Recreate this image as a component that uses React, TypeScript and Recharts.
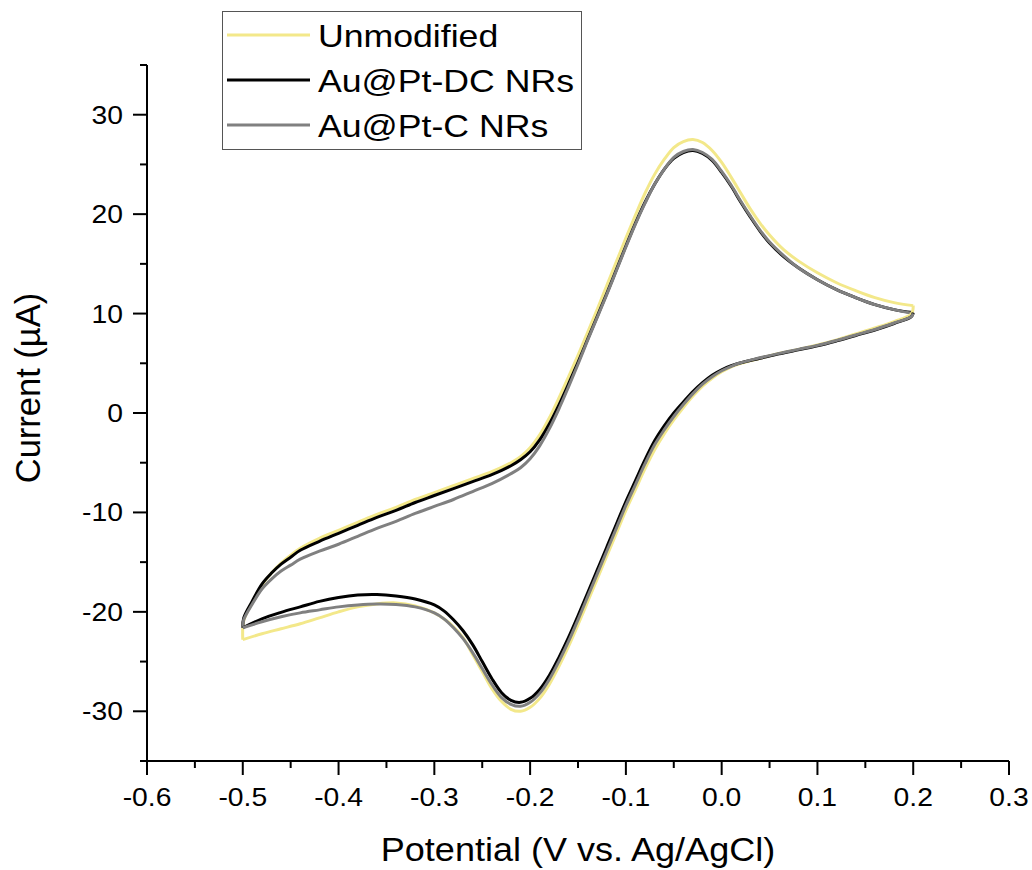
import { LineChart, Line, XAxis, YAxis, Label } from 'recharts';

// scan potentials (V vs. Ag/AgCl): forward sweep then reverse sweep
const potentialFwd = [-0.5, -0.499, -0.49, -0.48, -0.47, -0.46, -0.45, -0.44, -0.42, -0.4, -0.38, -0.36, -0.34, -0.32, -0.3, -0.28, -0.26, -0.24, -0.22, -0.21, -0.2, -0.19, -0.18, -0.17, -0.16, -0.15, -0.14, -0.13, -0.12, -0.11, -0.1, -0.09, -0.08, -0.07, -0.06, -0.05, -0.04, -0.03, -0.02, -0.01, 0.0, 0.01, 0.02, 0.03, 0.04, 0.05, 0.065, 0.08, 0.1, 0.12, 0.14, 0.16, 0.18, 0.2];
const potentialRev = [0.2, 0.198, 0.18, 0.16, 0.14, 0.12, 0.1, 0.08, 0.06, 0.04, 0.02, 0.01, 0.0, -0.01, -0.02, -0.03, -0.04, -0.05, -0.06, -0.07, -0.08, -0.09, -0.1, -0.11, -0.12, -0.13, -0.14, -0.15, -0.16, -0.17, -0.18, -0.19, -0.2, -0.21, -0.22, -0.23, -0.24, -0.25, -0.26, -0.27, -0.28, -0.29, -0.3, -0.32, -0.34, -0.36, -0.38, -0.4, -0.42, -0.44, -0.46, -0.48, -0.5];

// currents in µA
const unmodifiedFwd = [-22.8, -20.9, -19.0, -17.3, -16.1, -15.1, -14.3, -13.6, -12.6, -11.8, -11.0, -10.2, -9.5, -8.7, -8.0, -7.3, -6.6, -5.9, -5.0, -4.4, -3.5, -2.2, -0.5, 1.5, 3.6, 5.8, 8.1, 10.4, 12.8, 15.2, 17.6, 19.9, 22.1, 24.0, 25.5, 26.7, 27.3, 27.5, 27.2, 26.4, 25.2, 23.7, 22.1, 20.5, 19.1, 17.9, 16.4, 15.3, 14.1, 13.1, 12.3, 11.6, 11.1, 10.8];
const unmodifiedRev = [10.8, 9.95, 9.2, 8.55, 7.95, 7.35, 6.85, 6.4, 6.0, 5.5, 5.0, 4.65, 4.15, 3.5, 2.7, 1.7, 0.55, -0.7, -2.1, -3.7, -5.6, -7.7, -9.8, -12.1, -14.4, -16.7, -19.0, -21.3, -23.5, -25.5, -27.3, -28.7, -29.6, -30.0, -29.8, -29.0, -27.7, -26.0, -24.3, -22.6, -21.5, -20.7, -20.1, -19.4, -19.1, -19.2, -19.5, -20.0, -20.6, -21.2, -21.7, -22.2, -22.8];
const dcFwd = [-21.6, -20.6, -18.9, -17.2, -16.1, -15.2, -14.5, -13.8, -12.9, -12.1, -11.3, -10.5, -9.8, -9.0, -8.3, -7.6, -6.9, -6.2, -5.3, -4.7, -3.9, -2.7, -1.1, 0.8, 2.9, 5.1, 7.4, 9.7, 12.0, 14.4, 16.8, 19.1, 21.2, 23.0, 24.5, 25.6, 26.2, 26.4, 26.1, 25.4, 24.2, 22.8, 21.2, 19.7, 18.3, 17.1, 15.7, 14.6, 13.4, 12.4, 11.6, 10.9, 10.4, 10.1];
const dcRev = [10.1, 9.7, 9.0, 8.35, 7.8, 7.25, 6.75, 6.35, 5.95, 5.5, 5.05, 4.75, 4.35, 3.8, 3.05, 2.15, 1.1, 0.0, -1.3, -2.8, -4.7, -6.8, -8.9, -11.2, -13.5, -15.8, -18.1, -20.4, -22.6, -24.6, -26.4, -27.8, -28.7, -29.1, -28.9, -28.1, -26.7, -25.0, -23.3, -21.9, -20.8, -19.9, -19.3, -18.7, -18.4, -18.25, -18.3, -18.55, -18.95, -19.5, -20.05, -20.7, -21.6];
const cFwd = [-21.6, -20.8, -19.2, -17.7, -16.7, -15.9, -15.3, -14.7, -13.9, -13.2, -12.4, -11.6, -10.9, -10.1, -9.4, -8.7, -7.9, -7.1, -6.1, -5.5, -4.6, -3.3, -1.6, 0.4, 2.6, 4.9, 7.3, 9.6, 11.9, 14.3, 16.7, 19.0, 21.1, 23.0, 24.5, 25.7, 26.3, 26.5, 26.2, 25.5, 24.3, 22.9, 21.3, 19.8, 18.4, 17.2, 15.8, 14.6, 13.4, 12.4, 11.6, 10.9, 10.4, 10.0];
const cRev = [10.0, 9.7, 9.05, 8.4, 7.85, 7.3, 6.8, 6.4, 6.0, 5.55, 5.05, 4.7, 4.25, 3.65, 2.9, 1.95, 0.85, -0.35, -1.7, -3.2, -5.1, -7.2, -9.3, -11.6, -13.9, -16.2, -18.5, -20.8, -23.0, -25.0, -26.8, -28.2, -29.1, -29.5, -29.3, -28.6, -27.3, -25.7, -24.1, -22.7, -21.6, -20.7, -20.1, -19.5, -19.25, -19.2, -19.3, -19.5, -19.8, -20.1, -20.5, -21.0, -21.6];

const seriesNames = ['Unmodified', 'Au@Pt-DC NRs', 'Au@Pt-C NRs'];
const seriesKeys = ['unmod', 'dc', 'c'];
const seriesColors = ['#F3E88A', '#000000', '#808080'];

const xTicks = [-0.6, -0.55, -0.5, -0.45, -0.4, -0.35, -0.3, -0.25, -0.2, -0.15, -0.1, -0.05, 0, 0.05, 0.1, 0.15, 0.2, 0.25, 0.3];
const yTicks = [-35, -30, -25, -20, -15, -10, -5, 0, 5, 10, 15, 20, 25, 30, 35];

const fwdRows = potentialFwd.map((E, i) => ({ E, unmod: unmodifiedFwd[i], dc: dcFwd[i], c: cFwd[i] }));
const revRows = potentialRev.map((E, i) => ({ E, unmod: unmodifiedRev[i], dc: dcRev[i], c: cRev[i] }));

const FONT = '"Liberation Sans", Arial, sans-serif';

// centripetal Catmull-Rom curve (same maths as d3's curveCatmullRom, alpha 0.5)
function catmullRom(context: any) {
  const alpha = 0.5;
  const eps = 1e-12;
  const s: any = {};
  const bez = (x: number, y: number) => {
    let x1 = s.x1, y1 = s.y1, x2 = s.x2, y2 = s.y2;
    if (s.l01a > eps) {
      const a = 2 * s.l012a + 3 * s.l01a * s.l12a + s.l122a;
      const n = 3 * s.l01a * (s.l01a + s.l12a);
      x1 = (x1 * a - s.x0 * s.l122a + s.x2 * s.l012a) / n;
      y1 = (y1 * a - s.y0 * s.l122a + s.y2 * s.l012a) / n;
    }
    if (s.l23a > eps) {
      const b = 2 * s.l232a + 3 * s.l23a * s.l12a + s.l122a;
      const m = 3 * s.l23a * (s.l23a + s.l12a);
      x2 = (x2 * b + s.x1 * s.l232a - x * s.l122a) / m;
      y2 = (y2 * b + s.y1 * s.l232a - y * s.l122a) / m;
    }
    context.bezierCurveTo(x1, y1, x2, y2, s.x2, s.y2);
  };
  const curve: any = {
    areaStart() { s.line = 0; },
    areaEnd() { s.line = NaN; },
    lineStart() {
      s.x0 = s.x1 = s.x2 = s.y0 = s.y1 = s.y2 = NaN;
      s.l01a = s.l12a = s.l23a = s.l012a = s.l122a = s.l232a = s.point = 0;
    },
    lineEnd() {
      if (s.point === 2) context.lineTo(s.x2, s.y2);
      else if (s.point === 3) curve.point(s.x2, s.y2);
      if (s.line || (s.line !== 0 && s.point === 1)) context.closePath();
      s.line = 1 - s.line;
    },
    point(x: number, y: number) {
      x = +x; y = +y;
      if (s.point) {
        const dx = s.x2 - x, dy = s.y2 - y;
        s.l232a = Math.pow(dx * dx + dy * dy, alpha);
        s.l23a = Math.sqrt(s.l232a);
      }
      if (s.point === 0) {
        s.point = 1;
        if (s.line) context.lineTo(x, y); else context.moveTo(x, y);
      } else if (s.point === 1) {
        s.point = 2;
      } else {
        s.point = 3;
        bez(x, y);
      }
      s.l01a = s.l12a; s.l12a = s.l23a;
      s.l012a = s.l122a; s.l122a = s.l232a;
      s.x0 = s.x1; s.x1 = s.x2; s.x2 = x;
      s.y0 = s.y1; s.y1 = s.y2; s.y2 = y;
    },
  };
  s.line = NaN;
  return curve;
}

function XTick(props: any) {
  const { x, y, payload } = props;
  const v = payload.value;
  const major = Math.round(v * 100) % 10 === 0;
  return (
    <g>
      <line x1={x} x2={x} y1={y} y2={y + (major ? 14 : 7)} stroke="#000" strokeWidth={2} />
      {major && (
        <text
          transform={`translate(${x},${y + 45}) scale(1.11,1)`}
          textAnchor="middle"
          fontFamily={FONT}
          fontSize={25.5}
          fill="#000"
        >
          {v.toFixed(1)}
        </text>
      )}
    </g>
  );
}

function YTick(props: any) {
  const { x, y, payload } = props;
  const v = payload.value;
  const major = v % 10 === 0;
  return (
    <g>
      <line x1={x} x2={x - (major ? 14 : 7)} y1={y} y2={y} stroke="#000" strokeWidth={2} />
      {major && (
        <text
          transform={`translate(${x - 24},${y + 9}) scale(1.11,1)`}
          textAnchor="end"
          fontFamily={FONT}
          fontSize={25.5}
          fill="#000"
        >
          {v}
        </text>
      )}
    </g>
  );
}

function XTitle(props: any) {
  const vb = props.viewBox;
  const cx = vb.x + vb.width / 2;
  return (
    <text
      transform={`translate(${cx},${vb.y + 100}) scale(1.06,1)`}
      textAnchor="middle"
      fontFamily={FONT}
      fontSize={34}
      fill="#000"
    >
      Potential (V vs. Ag/AgCl)
    </text>
  );
}

function YTitle(props: any) {
  const vb = props.viewBox;
  const cx = 39.5;
  const cy = vb.y + vb.height / 2 - 25;
  return (
    <text
      transform={`translate(${cx},${cy}) rotate(-90)`}
      textAnchor="middle"
      fontFamily={FONT}
      fontSize={34.5}
      fill="#000"
    >
      Current (µA)
    </text>
  );
}

function LegendBox() {
  return (
    <div
      style={{
        position: 'absolute',
        left: 222,
        top: 11,
        width: 360,
        height: 139,
        border: '1.5px solid #555',
        boxSizing: 'border-box',
        background: '#fff',
      }}
    >
      <svg width={357} height={136}>
        {seriesNames.map((name, i) => (
          <g key={name}>
            <line x1={4} x2={87} y1={23 + i * 45} y2={23 + i * 45} stroke={seriesColors[i]} strokeWidth={3} />
            <text
              transform={`translate(95,${35 + i * 45}) scale(1.15,1)`}
              fontFamily={FONT}
              fontSize={31}
              fill="#000"
            >
              {name}
            </text>
          </g>
        ))}
      </svg>
    </div>
  );
}

export default function App() {
  return (
    <div style={{ position: 'absolute', left: 0, top: 0, width: 1032, height: 870, background: '#fff' }}>
      <LineChart width={1032} height={870} margin={{ top: 65, right: 23, bottom: 0, left: 0 }}>
        <XAxis
          type="number"
          dataKey="E"
          domain={[-0.6, 0.3]}
          ticks={xTicks}
          interval={0}
          allowDataOverflow
          height={109}
          tickSize={0}
          tickMargin={0}
          tickLine={false}
          axisLine={{ stroke: '#000', strokeWidth: 2 }}
          tick={(p: any) => <XTick {...p} />}
        >
          <Label content={XTitle} />
        </XAxis>
        <YAxis
          type="number"
          domain={[-35, 35]}
          ticks={yTicks}
          interval={0}
          allowDataOverflow
          width={147}
          tickSize={0}
          tickMargin={0}
          tickLine={false}
          axisLine={{ stroke: '#000', strokeWidth: 2 }}
          tick={(p: any) => <YTick {...p} />}
        >
          <Label content={YTitle} />
        </YAxis>
        {seriesKeys.map((k, i) => (
          <Line
            key={`f-${k}`}
            data={fwdRows}
            dataKey={k}
            type={catmullRom as any}
            stroke={seriesColors[i]}
            strokeWidth={3}
            dot={false}
            activeDot={false}
            isAnimationActive={false}
          />
        ))}
        {seriesKeys.map((k, i) => (
          <Line
            key={`r-${k}`}
            data={revRows}
            dataKey={k}
            type={catmullRom as any}
            stroke={seriesColors[i]}
            strokeWidth={3}
            dot={false}
            activeDot={false}
            isAnimationActive={false}
          />
        ))}
      </LineChart>
      <LegendBox />
    </div>
  );
}
